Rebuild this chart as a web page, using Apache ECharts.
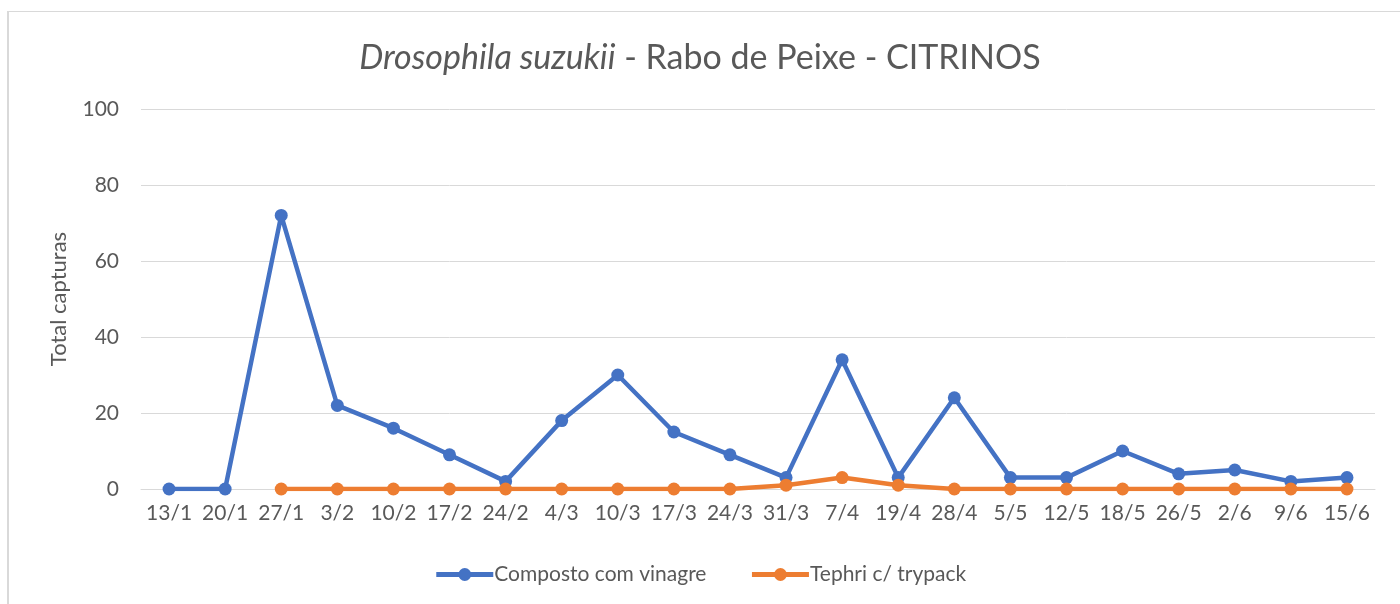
<!DOCTYPE html>
<html>
<head>
<meta charset="utf-8">
<script src="https://cdn.jsdelivr.net/npm/echarts@6/dist/echarts.min.js"></script>
<style>
html,body{margin:0;padding:0;background:#fff;}
#frame{position:absolute;left:7px;top:11px;width:1400px;height:600px;border-left:2px solid #d9d9d9;border-top:1px solid #d9d9d9;}
#chart{position:absolute;left:0;top:0;width:1400px;height:604px;}
</style>
</head>
<body>
<div id="frame"></div>
<div id="chart"></div>
<script>
// datas de recolha
var datas = ['13/1','20/1','27/1','3/2','10/2','17/2','24/2','4/3','10/3','17/3','24/3','31/3','7/4','19/4','28/4','5/5','12/5','18/5','26/5','2/6','9/6','15/6'];
// capturas por armadilha
var composto = [0,0,72,22,16,9,2,18,30,15,9,3,34,3,24,3,3,10,4,5,2,3];
var tephri = [null,null,0,0,0,0,0,0,0,0,0,1,3,1,0,0,0,0,0,0,0,0];

var fonte = 'Lato, "Open Sans", sans-serif';

var grafico = echarts.init(document.getElementById('chart'));
grafico.setOption({
    animation:false,
    textStyle:{fontFamily:fonte},
    title:{
        text:'{i|Drosophila suzukii} - Rabo de Peixe - CITRINOS',
        left:'center',
        top:36,
        textStyle:{
            fontFamily:fonte,
            fontSize:34,
            fontWeight:'normal',
            color:'#595959',
            rich:{
                i:{fontFamily:fonte,fontSize:34,fontStyle:'italic',color:'#595959'}
            }
        }
    },
    legend:{
        bottom:14,
        left:'center',
        itemWidth:57,
        itemHeight:16,
        itemGap:43,
        lineStyle:{width:5},
        textStyle:{fontFamily:fonte,fontSize:21,color:'#595959',padding:[0,0,0,-4]},
        data:['Composto com vinagre','Tephri c/ trypack']
    },
    grid:{left:141,right:25,top:109,bottom:115},
    xAxis:{
        type:'category',
        data:datas,
        boundaryGap:true,
        axisLine:{lineStyle:{color:'#d9d9d9',width:1}},
        axisTick:{show:false},
        axisLabel:{fontFamily:fonte,fontSize:21,color:'#595959',margin:14,interval:0}
    },
    yAxis:{
        type:'value',
        min:0,
        max:100,
        interval:20,
        name:'Total capturas',
        nameLocation:'middle',
        nameGap:71,
        nameTextStyle:{fontFamily:fonte,fontSize:22,color:'#595959'},
        axisLine:{show:false},
        axisTick:{show:false},
        axisLabel:{fontFamily:fonte,fontSize:21,color:'#595959',margin:22},
        splitLine:{lineStyle:{color:'#d9d9d9',width:1}}
    },
    series:[
        {
            name:'Composto com vinagre',
            type:'line',
            data:composto,
            symbol:'circle',
            symbolSize:13,
            lineStyle:{color:'#4472c4',width:4.5},
            itemStyle:{color:'#4472c4'},
            z:2
        },
        {
            name:'Tephri c/ trypack',
            type:'line',
            data:tephri,
            symbol:'circle',
            symbolSize:13,
            lineStyle:{color:'#ed7d31',width:4.5},
            itemStyle:{color:'#ed7d31'},
            z:3
        }
    ]
});
</script>
</body>
</html>
